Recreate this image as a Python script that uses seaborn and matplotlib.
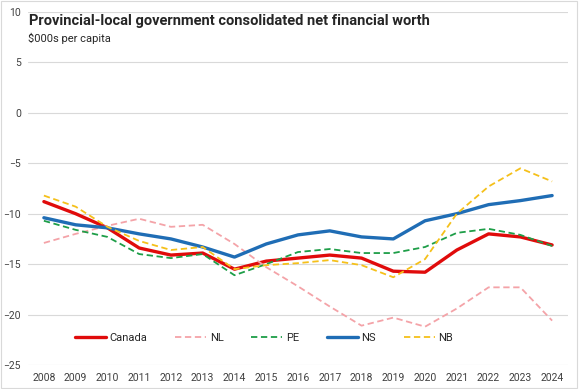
import pandas as pd
import matplotlib.pyplot as plt
import seaborn as sns
from matplotlib.patches import Rectangle

# Net financial worth, $000s per capita
years = list(range(2008, 2025))
canada = [-8.8, -10.0, -11.4, -13.4, -14.1, -13.9, -15.5, -14.7, -14.4, -14.1, -14.4, -15.7, -15.8, -13.6, -12.0, -12.3, -13.1]
nl = [-12.9, -12.0, -11.2, -10.5, -11.3, -11.1, -13.0, -15.3, -17.2, -19.2, -21.1, -20.3, -21.2, -19.4, -17.3, -17.3, -20.6]
pe = [-10.7, -11.6, -12.3, -14.0, -14.4, -14.0, -16.1, -15.0, -13.8, -13.5, -13.9, -13.9, -13.3, -11.9, -11.5, -12.1, -13.2]
ns = [-10.4, -11.1, -11.4, -12.0, -12.5, -13.3, -14.3, -13.0, -12.1, -11.7, -12.3, -12.5, -10.7, -10.0, -9.1, -8.7, -8.2]
nb = [-8.2, -9.3, -11.3, -12.7, -13.6, -13.3, -15.5, -15.1, -14.9, -14.6, -15.1, -16.3, -14.5, -10.0, -7.3, -5.5, -6.8]

series = {'Canada': canada, 'NL': nl, 'PE': pe, 'NS': ns, 'NB': nb}
colors = {'Canada': '#E00B0B', 'NL': '#F4A3A8', 'PE': '#1E9E48', 'NS': '#1F6DB5', 'NB': '#F5C01A'}
dashed = {'Canada': False, 'NL': True, 'PE': True, 'NS': False, 'NB': True}

sns.set_style('white')
plt.rcParams['font.family'] = ['Roboto', 'DejaVu Sans']

fig = plt.figure(figsize=(5.79, 3.89), dpi=100)
ax = fig.add_axes([28 / 579, 1 - 365 / 389, 540 / 579, 353 / 389])

for name, vals in series.items():
    df = pd.DataFrame({'x': range(len(years)), 'y': vals})
    lw = 1.3 if dashed[name] else 2.4
    ls = (0, (3.5, 2)) if dashed[name] else '-'
    sns.lineplot(data=df, x='x', y='y', ax=ax, color=colors[name], linewidth=lw,
                 linestyle=ls, label=name, zorder=3)

ax.set_xlim(-0.5, len(years) - 0.5)
ax.set_ylim(-25, 10)
ax.set_yticks(range(-25, 11, 5))
ax.set_xticks(range(len(years)))
ax.set_xticklabels([str(y) for y in years])
ax.tick_params(axis='both', labelsize=7.5, labelcolor='#404040', length=0)
ax.tick_params(axis='x', pad=6)
ax.tick_params(axis='y', pad=5)
ax.grid(axis='y', color='#D9D9D9', linewidth=0.8)
ax.set_axisbelow(True)
for s in ax.spines.values():
    s.set_visible(False)
ax.set_xlabel('')
ax.set_ylabel('')

ax.legend(loc='lower center', bbox_to_anchor=(0.437, 0.035), ncol=5, frameon=False,
          fontsize=8, handlelength=2.8, columnspacing=2.5, handletextpad=0.3)

fig.text(29 / 579, 1 - 21 / 389, 'Provincial-local government consolidated net financial worth',
         fontsize=10.5, fontweight='bold', color='#262626', va='center')
fig.text(28 / 579, 1 - 38 / 389, '$000s per capita', fontsize=8, color='#262626', va='center')

fig.patches.append(Rectangle((0.002, 0.003), 0.995, 0.994, transform=fig.transFigure,
                             fill=False, edgecolor='#D9D9D9', linewidth=0.8))

fig.savefig('out.png', dpi=100)
